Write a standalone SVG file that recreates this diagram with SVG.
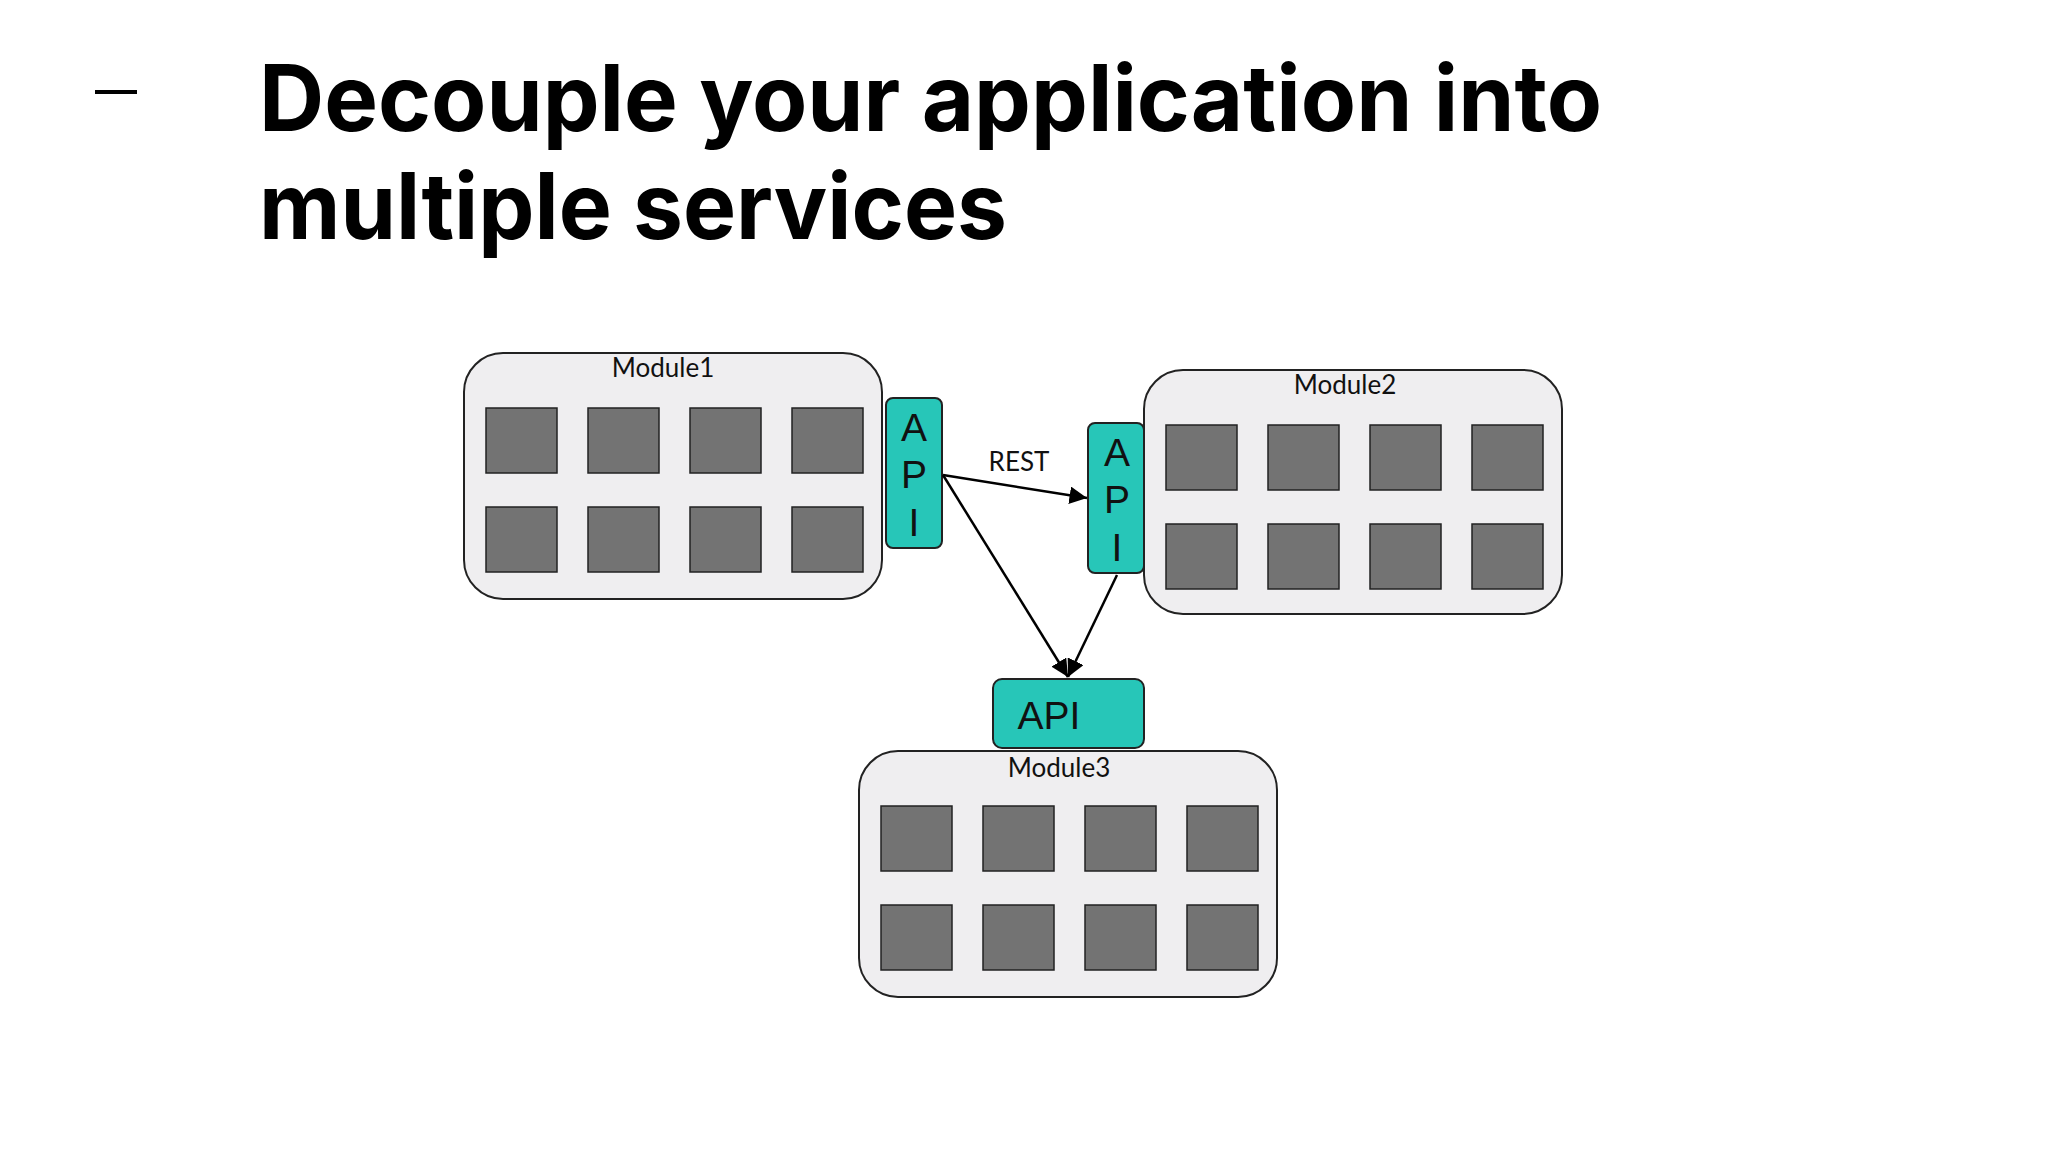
<svg xmlns="http://www.w3.org/2000/svg" width="2048" height="1152" viewBox="0 0 2048 1152">
<style>
.mod{fill:#efeef0;stroke:#222;stroke-width:2}
.sq{fill:#737373;stroke:#222;stroke-width:1.5}
.api{fill:#27c6b8;stroke:#222;stroke-width:2}
.lbl{font-family:Lato,"Open Sans",sans-serif;font-size:26px;fill:#111;text-anchor:middle}
.apit{font-family:"Liberation Sans",Arial,sans-serif;font-size:39px;fill:#111;text-anchor:middle}
.title{font-family:Inter,"Open Sans",sans-serif;font-weight:700;font-size:92px;fill:#000}
.con{stroke:#000;stroke-width:2.5;fill:none}
</style>
<defs>
<marker id="ah" viewBox="0 0 10 10" refX="10" refY="5" markerWidth="7" markerHeight="7" orient="auto"><path d="M0,0 L10,5 L0,10 z" fill="#000"/></marker>
<g id="sqs">
<rect class="sq" x="22" y="55" width="71" height="65"/><rect class="sq" x="124" y="55" width="71" height="65"/><rect class="sq" x="226" y="55" width="71" height="65"/><rect class="sq" x="328" y="55" width="71" height="65"/>
<rect class="sq" x="22" y="154" width="71" height="65"/><rect class="sq" x="124" y="154" width="71" height="65"/><rect class="sq" x="226" y="154" width="71" height="65"/><rect class="sq" x="328" y="154" width="71" height="65"/>
</g>
</defs>
<rect width="2048" height="1152" fill="#fff"/>
<g id="title">
<rect x="95" y="90" width="42" height="4" fill="#000"/>
<text class="title" x="259" y="131" textLength="1343" lengthAdjust="spacingAndGlyphs">Decouple your application into</text>
<text class="title" x="259" y="239" textLength="748" lengthAdjust="spacingAndGlyphs">multiple services</text>
</g>
<g id="module1"><rect class="mod" x="464" y="353" width="418" height="246" rx="39"/><use href="#sqs" x="464" y="353"/><text class="lbl" x="663" y="377">Module1</text></g>
<g id="module2"><rect class="mod" x="1144" y="370" width="418" height="244" rx="39"/><use href="#sqs" x="1144" y="370"/><text class="lbl" x="1345" y="394">Module2</text></g>
<g id="module3"><rect class="mod" x="859" y="751" width="418" height="246" rx="39"/><use href="#sqs" x="859" y="751"/><text class="lbl" x="1059" y="777">Module3</text></g>
<g id="api1"><rect class="api" x="886" y="398" width="56" height="150" rx="7"/><text class="apit" x="914" y="441">A</text><text class="apit" x="914" y="488">P</text><text class="apit" x="914" y="536">I</text></g>
<g id="api2"><rect class="api" x="1088" y="423" width="56" height="150" rx="7"/><text class="apit" x="1117" y="466">A</text><text class="apit" x="1117" y="513">P</text><text class="apit" x="1117" y="561">I</text></g>
<g id="api3"><rect class="api" x="993" y="679" width="151" height="69" rx="9"/><text class="apit" x="1049" y="729" font-size="42">API</text></g>
<g id="connectors">
<line class="con" x1="943" y1="475" x2="1087" y2="498" marker-end="url(#ah)"/>
<line class="con" x1="943" y1="475" x2="1068" y2="677" marker-end="url(#ah)"/>
<line class="con" x1="1117" y1="575" x2="1068" y2="677" marker-end="url(#ah)"/>
<text class="lbl" x="1019" y="471" font-size="21">REST</text>
</g>
</svg>
